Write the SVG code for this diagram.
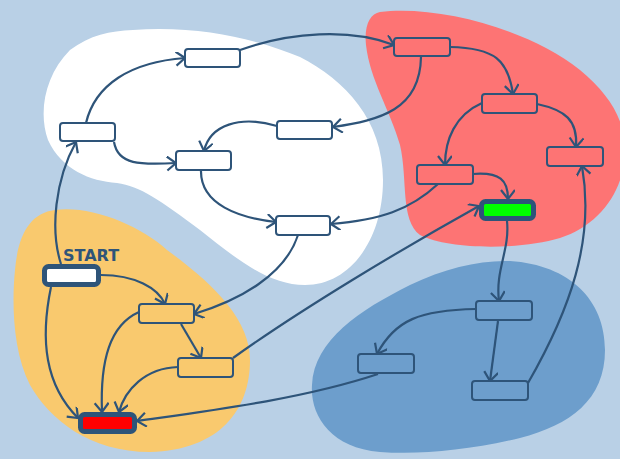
<svg xmlns="http://www.w3.org/2000/svg" width="620" height="459" viewBox="0 0 620 459">
<defs>
<style>
.n{stroke:#2e5479;stroke-width:2}
.t{stroke:#2e5479;stroke-width:5}
.e{fill:none;stroke:#2e5479;stroke-width:2.2;marker-end:url(#a)}
.w{fill:#ffffff}.o{fill:#f9c96e}.r{fill:#fd7474}.b{fill:#6d9ecc}
.lbl{font-family:"DejaVu Sans",sans-serif;font-weight:bold;font-size:16px;fill:#2e5479}
</style>
<marker id="a" markerUnits="userSpaceOnUse" markerWidth="16" markerHeight="16" refX="10" refY="7" orient="auto">
<path d="M1,0 L10,7 L1,14" fill="none" stroke="#2e5479" stroke-width="2.2"/>
</marker>
</defs>
<rect width="620" height="459" fill="#b9d0e6"/>
<g id="regions">
<path class="w" d="M133,30 C200,25 260,40 300,57 C345,80 383,120 383,180 C383,240 350,285 305,285 C270,285 240,262 200,230 C160,200 140,186 117,183 C90,181 62,170 48,140 C38,112 45,75 70,50 C90,35 110,31 133,30 Z"/>
<path class="o" d="M55,210 C90,205 140,225 167,250 C215,285 250,320 250,360 C250,410 220,450 150,452 C90,452 50,420 30,385 C12,350 12,300 15,270 C18,235 30,213 55,210 Z"/>
<path class="r" d="M380,12 C440,5 530,30 580,70 C610,95 625,120 625,150 C625,190 600,225 560,238 C520,250 450,250 420,235 C400,220 408,180 400,145 C390,110 370,80 366,45 C364,25 370,14 380,12 Z"/>
<path class="b" d="M510,261 C570,265 605,300 605,350 C605,400 570,425 520,438 C470,450 420,455 380,452 C330,448 310,415 312,385 C314,340 360,310 410,285 C445,268 480,260 510,261 Z"/>
</g>
<g id="connectors">
<path class="e" d="M86,123 C95,85 130,62 185,58"/>
<path class="e" d="M240,50 C290,32 350,28 394,45"/>
<path class="e" d="M114,142 C118,165 140,165 176,163"/>
<path class="e" d="M277,126 C240,115 210,125 204,151"/>
<path class="e" d="M201,170 C200,205 240,218 276,222"/>
<path class="e" d="M421,57 C420,110 380,120 333,127"/>
<path class="e" d="M450,47 C495,48 508,60 513,94"/>
<path class="e" d="M482,103 C455,115 445,140 445,165"/>
<path class="e" d="M537,104 C565,110 578,120 576,147"/>
<path class="e" d="M473,174 C500,172 508,180 508,199"/>
<path class="e" d="M438,184 C410,210 380,220 331,224"/>
<path class="e" d="M528,383 C570,310 595,240 582,166"/>
<path class="e" d="M507,221 C510,250 495,270 499,301"/>
<path class="e" d="M476,309 C420,310 395,320 377,354"/>
<path class="e" d="M498,321 L490,381"/>
<path class="e" d="M378,374 C300,400 200,412 137,421"/>
<path class="e" d="M233,358 C300,310 400,250 479,206"/>
<path class="e" d="M298,235 C285,275 240,300 194,314"/>
<path class="e" d="M101,275 C135,275 158,288 165,304"/>
<path class="e" d="M181,324 L201,358"/>
<path class="e" d="M139,312 C110,325 100,360 102,412"/>
<path class="e" d="M178,367 C145,368 125,390 119,412"/>
<path class="e" d="M51,287 C40,340 45,385 78,418"/>
<path class="e" d="M61,264 C50,230 55,180 76,142"/>
</g>
<g id="w1"><rect class="n w" x="185" y="49" width="55" height="18" rx="3"/></g>
<g id="w2"><rect class="n w" x="60" y="123" width="55" height="18" rx="3"/></g>
<g id="w3"><rect class="n w" x="176" y="151" width="55" height="19" rx="3"/></g>
<g id="w4"><rect class="n w" x="277" y="121" width="55" height="18" rx="3"/></g>
<g id="w5"><rect class="n w" x="276" y="216" width="54" height="19" rx="3"/></g>
<g id="r1"><rect class="n r" x="394" y="38" width="56" height="18" rx="3"/></g>
<g id="r2"><rect class="n r" x="482" y="94" width="55" height="19" rx="3"/></g>
<g id="r3"><rect class="n r" x="547" y="147" width="56" height="19" rx="3"/></g>
<g id="r4"><rect class="n r" x="417" y="165" width="56" height="19" rx="3"/></g>
<g id="goal"><rect class="t" x="481.5" y="201.5" width="52" height="17" rx="4" fill="#00ff00"/></g>
<g id="start"><rect class="t" x="44.5" y="266.5" width="54" height="18" rx="4" fill="#ffffff"/><text class="lbl" x="63" y="261">START</text></g>
<g id="o1"><rect class="n o" x="139" y="304" width="55" height="19" rx="3"/></g>
<g id="o2"><rect class="n o" x="178" y="358" width="55" height="19" rx="3"/></g>
<g id="end"><rect class="t" x="80.5" y="414.5" width="54" height="17" rx="4" fill="#ff0000"/></g>
<g id="b1"><rect class="n b" x="476" y="301" width="56" height="19" rx="3"/></g>
<g id="b2"><rect class="n b" x="358" y="354" width="56" height="19" rx="3"/></g>
<g id="b3"><rect class="n b" x="472" y="381" width="56" height="19" rx="3"/></g>
</svg>
